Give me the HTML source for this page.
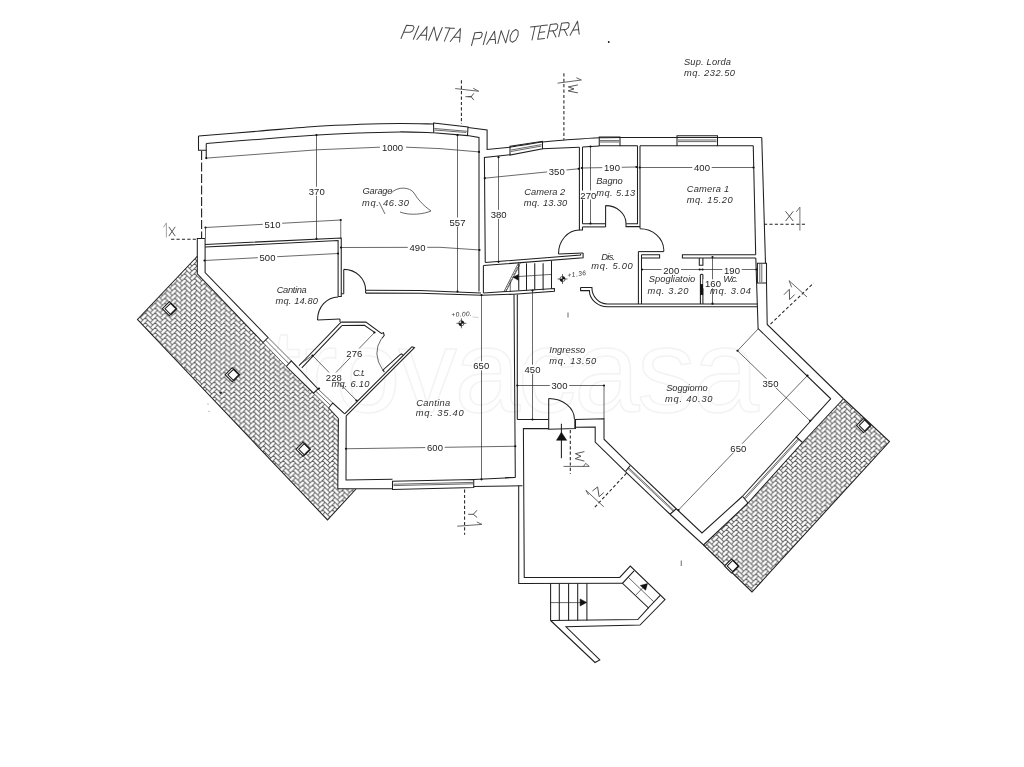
<!DOCTYPE html>
<html><head><meta charset="utf-8"><title>Pianta Piano Terra</title>
<style>
html,body{margin:0;padding:0;background:#fff;}
body{width:1024px;height:767px;overflow:hidden;font-family:"Liberation Sans",sans-serif;}
svg{display:block;will-change:transform}
.w{fill:none;stroke:#1f1f1f;stroke-width:1.05;stroke-linecap:butt;stroke-linejoin:miter}
.t{fill:none;stroke:#2a2a2a;stroke-width:0.7}
.h{fill:none;stroke:#5a5a5a;stroke-width:1.0}
.ds{fill:none;stroke:#222;stroke-width:1.05;stroke-dasharray:3.2 2.2}
.dl{fill:none;stroke:#222;stroke-width:1.1;stroke-dasharray:9 2.5}
.d{fill:#111;stroke:none}
.f{fill:#111;stroke:#111;stroke-width:0.5}
.n{font-family:"Liberation Sans",sans-serif;font-size:9.5px;fill:#222}
.i{font-family:"Liberation Sans",sans-serif;font-style:italic;font-size:9.3px;fill:#303030}
.s{font-family:"Liberation Sans",sans-serif;font-style:italic;font-size:6.6px;fill:#333}
.sec{font-family:"Liberation Sans",sans-serif;font-size:11px;fill:#333}
.wm{font-family:"Liberation Sans",sans-serif;font-size:118px;fill:none;stroke:#f3f3f3;stroke-width:1.5;letter-spacing:-3px}
.ttl{fill:none;stroke:#484848;stroke-width:1.0;stroke-linecap:round;stroke-linejoin:round}
</style></head><body>
<svg width="1024" height="767" viewBox="0 0 1024 767">
<defs>
<pattern id="hb" width="9.85" height="4.925" patternUnits="userSpaceOnUse" patternTransform="translate(0 0)">
<path class="h" d="M9.85 -4.92 L14.77 0.00 M7.39 -2.46 L9.85 0.00 M7.39 -2.46 L2.46 2.46 M9.85 0.00 L14.77 4.92 M9.85 0.00 L7.39 2.46 M7.39 2.46 L9.85 4.92 M7.39 2.46 L2.46 7.39 M9.85 4.92 L14.77 9.85 M9.85 4.92 L7.39 7.39 M0.00 -4.92 L4.92 0.00 M-2.46 -2.46 L0.00 0.00 M0.00 0.00 L4.92 4.92 M0.00 0.00 L-2.46 2.46 M-2.46 2.46 L0.00 4.92 M0.00 4.92 L4.92 9.85 M0.00 4.92 L-2.46 7.39"/>
</pattern>
</defs>
<rect width="1024" height="767" fill="#fff"/>
<text class="wm" x="268.00" y="412.00" textLength="488.0" lengthAdjust="spacing">trovacasa</text>
<path d="M197.30 256.25 L137.50 319.50 L327.50 520.00 L356.00 489.00 L337.80 488.75 L338.40 418.50 L328.60 408.00 L313.50 393.20 L286.30 366.50 L263.00 342.50 L197.30 273.75 Z" fill="url(#hb)" stroke="none"/>
<path class="w" d="M197.30 256.25 L137.50 319.50 L327.50 520.00 L356.00 489.00" />
<path d="M843.50 398.75 L889.50 441.50 L752.00 592.00 L703.50 545.00 L748.00 503.00 L802.50 442.50 Z" fill="url(#hb)" stroke="none"/>
<path class="w" d="M843.50 398.75 L889.50 441.50 L752.00 592.00 L703.50 545.00" />
<g transform="translate(169.30 308.80) rotate(45.0)">
<rect x="-4.95" y="-4.95" width="9.90" height="9.90" class="w" style="fill:#fff"/>
<rect x="-3.05" y="-4.95" width="8.00" height="8.00" class="w" style="fill:#fff"/>
<path class="w" style="stroke-width:1.5" d="M-3.05 -4.95 L4.95 -4.95 L4.95 3.05"/>
</g>
<g transform="translate(232.20 374.80) rotate(45.0)">
<rect x="-4.95" y="-4.95" width="9.90" height="9.90" class="w" style="fill:#fff"/>
<rect x="-3.05" y="-4.95" width="8.00" height="8.00" class="w" style="fill:#fff"/>
<path class="w" style="stroke-width:1.5" d="M-3.05 -4.95 L4.95 -4.95 L4.95 3.05"/>
</g>
<g transform="translate(303.00 449.25) rotate(45.0)">
<rect x="-4.95" y="-4.95" width="9.90" height="9.90" class="w" style="fill:#fff"/>
<rect x="-3.05" y="-4.95" width="8.00" height="8.00" class="w" style="fill:#fff"/>
<path class="w" style="stroke-width:1.5" d="M-3.05 -4.95 L4.95 -4.95 L4.95 3.05"/>
</g>
<g transform="translate(863.50 425.50) rotate(45.0)">
<rect x="-4.95" y="-4.95" width="9.90" height="9.90" class="w" style="fill:#fff"/>
<rect x="-3.05" y="-4.95" width="8.00" height="8.00" class="w" style="fill:#fff"/>
<path class="w" style="stroke-width:1.5" d="M-3.05 -4.95 L4.95 -4.95 L4.95 3.05"/>
</g>
<g transform="translate(731.50 566.00) rotate(45.0)">
<rect x="-4.95" y="-4.95" width="9.90" height="9.90" class="w" style="fill:#fff"/>
<rect x="-3.05" y="-4.95" width="8.00" height="8.00" class="w" style="fill:#fff"/>
<path class="w" style="stroke-width:1.5" d="M-3.05 -4.95 L4.95 -4.95 L4.95 3.05"/>
</g>
<path class="w" d="M198.50 136.00 C208.33 135.21 237.60 132.88 257.50 131.25 C277.40 129.62 300.82 127.41 317.90 126.25 C334.98 125.09 346.32 124.76 360.00 124.30 C373.68 123.84 387.75 123.55 400.00 123.50 C412.25 123.45 427.92 123.92 433.50 124.00" />
<path class="w" d="M198.50 136.00 L198.50 150.25 L206.25 150.25" />
<line class="w" x1="206.25" y1="143.50" x2="206.25" y2="158.10" />
<path class="w" d="M206.25 143.50 C214.79 142.82 238.89 140.82 257.50 139.40 C276.11 137.98 300.82 136.07 317.90 135.00 C334.98 133.93 346.32 133.52 360.00 133.00 C373.68 132.48 387.75 131.94 400.00 131.90 C412.25 131.86 427.92 132.61 433.50 132.75" />
<path class="w" d="M433.50 123.00 L468.00 127.00 L467.50 135.60 L433.75 132.75 Z" />
<line class="t" x1="434.40" y1="128.50" x2="466.90" y2="131.25" />
<line class="t" x1="434.40" y1="130.00" x2="466.25" y2="132.50" />
<path class="w" d="M468.00 127.50 L487.10 130.00 L487.10 149.40 L510.00 147.25" />
<path class="w" d="M467.50 135.60 L479.00 137.50 L479.00 291.50" />
<line class="dl" x1="201.60" y1="151.00" x2="201.60" y2="238.50" />
<path class="w" d="M205.10 238.50 L197.30 238.50 L197.30 273.75 L263.00 342.50 L268.00 337.50 L205.10 272.50 L205.10 238.50" />
<path class="w" d="M205.10 244.40 L341.25 238.00 L341.25 296.50 L338.10 296.50" />
<path class="w" d="M205.10 247.10 L338.10 240.60 L338.10 296.50" />
<line class="w" x1="343.75" y1="269.40" x2="343.75" y2="293.75" />
<path class="w" d="M343.75 269.4 A21.8 20.8 0 0 1 365.6 290.2" />
<line class="w" x1="365.60" y1="290.20" x2="365.60" y2="293.10" />
<line class="w" x1="341.25" y1="293.75" x2="343.75" y2="293.75" />
<path class="w" d="M365.60 290.25 L420.00 290.50 L481.00 293.00" />
<path class="w" d="M365.60 293.10 L420.00 293.30 L481.90 295.25" />
<path class="w" d="M338.1 296.9 A20.6 23.1 0 0 0 317.5 320" />
<line class="w" x1="317.50" y1="320.00" x2="340.00" y2="319.10" />
<line class="w" x1="340.00" y1="319.10" x2="340.00" y2="322.10" />
<path class="w" d="M341.20 322.10 L365.90 322.10 L381.40 333.40 L383.50 332.70 L384.20 335.50 L382.00 338.30" />
<path class="w" d="M341.90 325.60 L364.50 325.30 L374.60 332.40" />
<path class="w" d="M339.10 324.20 L299.00 365.75" />
<path class="w" d="M341.90 325.60 L301.80 367.90" />
<path class="w" d="M339.10 324.20 L341.20 322.10" />
<path class="t" d="M381.6 338.3 Q371.5 353.5 382.8 370.2" />
<path class="w" d="M412.10 346.70 L414.50 347.70 L346.20 415.90" />
<path class="w" d="M412.10 346.70 L344.70 413.80" />
<path class="w" d="M403.30 355.50 L401.60 353.80 L399.80 354.90 L382.80 370.20 L384.40 371.90" />
<path class="t" d="M263.00 342.50 L286.30 366.50" />
<path class="t" d="M265.50 340.00 L288.80 363.60" />
<path class="t" d="M268.00 337.50 L291.30 360.80" />
<path class="w" d="M286.30 366.50 L291.30 360.80 L318.00 389.00 L313.50 393.20 L286.30 366.50" />
<path class="t" d="M313.50 393.20 L328.60 408.00" />
<path class="t" d="M315.70 391.10 L330.70 405.50" />
<path class="t" d="M318.00 389.00 L332.80 403.00" />
<path class="w" d="M328.60 408.00 L332.80 403.00 L344.70 413.80" />
<path class="w" d="M328.60 408.00 L338.40 418.50" />
<path class="w" d="M346.20 415.70 L346.00 480.00 L392.50 479.20" />
<path class="w" d="M338.40 418.50 L337.80 488.75 L392.50 488.75" />
<path class="w" d="M392.50 481.25 L473.75 479.50 L473.75 487.50 L392.50 489.50 Z" />
<line class="t" x1="393.50" y1="484.20" x2="473.00" y2="482.40" />
<line class="t" x1="393.50" y1="485.60" x2="473.00" y2="483.80" />
<path class="w" d="M473.75 479.50 L515.00 477.50" />
<path class="w" d="M473.75 486.50 L522.50 485.75" />
<path class="w" d="M510.00 147.25 C515.42 146.38 533.33 143.21 542.50 142.00 C551.67 140.79 555.42 140.72 565.00 140.00 C574.58 139.28 587.50 138.12 600.00 137.70 C612.50 137.28 633.33 137.53 640.00 137.50" />
<line class="w" x1="640.00" y1="137.50" x2="761.75" y2="137.50" />
<path class="w" d="M510.00 146.25 L542.50 141.25 L542.50 148.75 L510.00 155.00 Z" />
<line class="t" x1="511.00" y1="150.00" x2="541.50" y2="144.60" />
<line class="t" x1="511.00" y1="151.50" x2="541.50" y2="146.00" />
<path class="w" d="M485.25 262.50 L484.40 157.50 L510.00 154.75" />
<path class="w" d="M542.50 148.75 L579.40 147.20" />
<path class="w" d="M579.40 147.20 L579.40 230.00 L582.50 230.00 L582.50 226.90" />
<line class="w" x1="582.50" y1="147.00" x2="582.50" y2="223.75" />
<path class="w" d="M485.25 262.50 L580.60 254.90 L580.60 254.00" />
<path class="w" d="M483.40 265.60 L583.10 257.70 L583.10 253.10" />
<path class="w" d="M582.50 147.00 L599.25 146.00" />
<path class="w" d="M620.00 145.75 L637.50 145.75" />
<path class="w" d="M599.25 137.00 L620.00 137.00 L620.00 145.75 L599.25 145.75 Z" />
<line class="t" x1="600.00" y1="140.60" x2="619.20" y2="140.60" />
<line class="t" x1="600.00" y1="142.00" x2="619.20" y2="142.00" />
<path class="w" d="M637.50 145.75 L637.50 223.75 L626.00 223.75 L626.00 226.60 L640.00 226.60" />
<line class="w" x1="640.00" y1="145.75" x2="640.00" y2="228.50" />
<path class="w" d="M582.50 223.75 L605.60 223.75" />
<path class="w" d="M582.50 226.90 L605.60 226.90" />
<path class="w" d="M605.6 205.6 A20.4 17.8 0 0 1 626 223.4" />
<line class="w" x1="605.60" y1="205.60" x2="605.60" y2="226.90" />
<path class="w" d="M558.5 253.9 A20.9 23.9 0 0 1 579.4 230" />
<line class="w" x1="558.50" y1="254.00" x2="583.10" y2="253.10" />
<path class="w" d="M640 228.7 A23.75 21.5 0 0 1 663.75 249.6" />
<line class="w" x1="663.75" y1="249.60" x2="663.75" y2="251.60" />
<line class="w" x1="638.40" y1="251.60" x2="663.75" y2="251.60" />
<path class="w" d="M677.00 135.75 L717.50 135.75 L717.50 145.75 L677.00 145.75 Z" />
<line class="t" x1="678.00" y1="140.00" x2="716.50" y2="140.00" />
<line class="t" x1="678.00" y1="141.60" x2="716.50" y2="141.60" />
<line class="w" x1="640.00" y1="145.75" x2="677.00" y2="145.75" />
<line class="w" x1="717.50" y1="145.75" x2="753.25" y2="145.75" />
<path class="w" d="M761.75 137.50 L765.50 263.20" />
<path class="w" d="M753.25 145.75 L755.70 254.70" />
<path class="w" d="M755.70 254.70 L682.40 254.70 L682.40 258.00 L755.80 258.00" />
<path class="w" d="M641.50 254.70 L659.60 254.70 L659.60 258.00 L641.50 258.00" />
<line class="w" x1="638.40" y1="251.60" x2="638.40" y2="304.00" />
<line class="w" x1="641.50" y1="254.70" x2="641.50" y2="304.00" />
<path class="w" d="M699.30 258.00 L699.30 265.30 L702.90 265.30 L702.90 258.00" />
<path class="w" d="M700.40 274.40 L700.40 304.00" />
<path class="w" d="M702.90 274.40 L702.90 304.00" />
<line class="w" x1="700.40" y1="274.40" x2="702.90" y2="274.40" />
<rect class="f" x="700.4" y="284.3" width="2.5" height="10.5"/>
<path class="w" d="M580.6 287.5 L591.9 287.5 A15.5 16.5 0 0 0 607.5 304 L757.6 304" />
<path class="w" d="M580.6 287.5 L580.6 290.6 L589.4 290.6 A18.5 16.2 0 0 0 607.5 306.8 L757.7 306.8" />
<path class="w" d="M755.80 258.00 L758.10 328.60 L830.75 398.75" />
<path class="w" d="M766.50 282.90 L767.20 324.50 L843.50 398.75" />
<path class="w" d="M757.40 263.20 L766.50 263.20 L766.50 282.90 L757.40 282.90 Z" />
<line class="t" x1="759.80" y1="264.00" x2="759.80" y2="282.00" />
<line class="t" x1="761.80" y1="264.00" x2="761.80" y2="282.00" />
<path class="w" d="M830.75 398.75 L796.25 437.00 L802.50 442.50" />
<path class="w" d="M843.50 398.75 L802.50 442.50" />
<path class="w" d="M796.25 437.00 L742.50 496.25" />
<path class="w" d="M802.50 442.50 L748.00 503.00" />
<path class="t" d="M798.10 438.70 L744.30 498.00" />
<path class="t" d="M799.00 439.50 L745.20 498.80" />
<path class="w" d="M742.50 496.25 L748.00 503.00" />
<path class="w" d="M742.50 496.25 L702.00 533.00 L676.25 508.75 L670.00 514.25" />
<path class="w" d="M748.00 503.00 L703.50 545.00 L670.00 514.25" />
<path class="w" d="M676.25 508.75 L630.40 465.20" />
<path class="w" d="M670.00 514.25 L625.40 471.60" />
<path class="t" d="M674.10 510.60 L628.50 467.60" />
<path class="t" d="M673.30 511.40 L627.80 468.50" />
<path class="w" d="M630.40 465.20 L625.40 471.60" />
<path class="w" d="M630.40 465.20 L604.00 439.20 L604.00 418.80 L575.50 419.50 L575.50 428.60 L548.70 429.30 L548.70 398.40" />
<line class="t" x1="574.50" y1="419.50" x2="574.50" y2="428.60" />
<path class="w" d="M625.40 471.60 L595.20 442.00 L595.20 427.00 L575.50 427.20" />
<path class="w" d="M548.70 428.60 L523.40 428.60 L524.25 577.40 L619.70 577.40 L630.30 566.10 L665.00 599.60 L640.00 625.00 L566.00 626.80 L599.80 659.90 L595.00 662.50 L550.60 620.50" />
<path class="w" d="M548.7 398.4 A25.8 21.1 0 0 1 574.5 419.5" />
<line class="w" x1="548.70" y1="419.50" x2="517.30" y2="419.50" />
<line class="w" x1="517.30" y1="419.50" x2="517.30" y2="294.50" />
<path class="w" d="M514.00 294.50 L515.30 477.20 L505.00 477.70" />
<path class="w" d="M518.70 485.60 L518.75 583.50 L622.50 583.30" />
<line class="w" x1="550.60" y1="583.50" x2="550.60" y2="620.50" />
<line class="w" x1="559.30" y1="583.50" x2="559.30" y2="620.50" />
<line class="w" x1="568.60" y1="583.50" x2="568.60" y2="620.50" />
<line class="w" x1="577.70" y1="583.50" x2="577.70" y2="620.50" />
<line class="w" x1="586.90" y1="583.50" x2="586.90" y2="620.50" />
<line class="t" x1="550.60" y1="602.60" x2="581.00" y2="602.60" />
<path class="f" d="M580.1 598.9 L586.7 602.4 L580.1 606 Z"/>
<path class="w" d="M550.60 620.50 L637.80 619.50 L648.40 607.80" />
<path class="w" d="M634.00 570.80 L622.50 583.30 L648.40 607.80 L660.20 595.40" />
<path class="t" d="M628.40 577.40 L653.75 601.75" />
<line class="t" x1="636.00" y1="594.90" x2="645.00" y2="585.50" />
<path class="f" d="M647.5 583.6 L640.3 585.5 L645.6 590.2 Z"/>
<line class="w" x1="483.40" y1="265.60" x2="483.40" y2="293.00" />
<line class="w" x1="518.75" y1="263.30" x2="518.75" y2="290.30" />
<line class="w" x1="526.50" y1="263.30" x2="526.50" y2="290.30" />
<line class="w" x1="534.75" y1="263.30" x2="534.75" y2="290.30" />
<line class="w" x1="543.10" y1="263.30" x2="543.10" y2="290.30" />
<line class="w" x1="551.50" y1="260.60" x2="551.50" y2="288.80" />
<line class="t" x1="518.75" y1="276.50" x2="551.50" y2="274.40" />
<path class="f" d="M513.1 277.25 L518.3 274.6 L518.3 280.2 Z"/>
<path class="t" d="M518.10 263.75 L503.75 291.90" />
<path class="t" d="M519.60 265.00 L505.80 291.90" />
<line class="t" x1="518.10" y1="265.55" x2="520.30" y2="263.35" />
<line class="t" x1="516.51" y1="268.68" x2="518.71" y2="266.48" />
<line class="t" x1="514.91" y1="271.81" x2="517.11" y2="269.61" />
<line class="t" x1="513.32" y1="274.93" x2="515.52" y2="272.73" />
<line class="t" x1="511.72" y1="278.06" x2="513.92" y2="275.86" />
<line class="t" x1="510.13" y1="281.19" x2="512.33" y2="278.99" />
<line class="t" x1="508.53" y1="284.32" x2="510.73" y2="282.12" />
<line class="t" x1="506.94" y1="287.44" x2="509.14" y2="285.24" />
<line class="t" x1="505.34" y1="290.57" x2="507.54" y2="288.37" />
<line class="t" x1="510.25" y1="281.00" x2="510.25" y2="291.50" />
<path class="w" d="M483.40 293.00 L554.40 288.50 L554.40 291.25 L513.75 294.20 L481.90 295.25" />
<line class="w" x1="561.40" y1="423.70" x2="561.40" y2="458.20" />
<path class="f" d="M556.5 440.3 L561.4 432.2 L566.7 440.3 Z"/>
<path class="t" d="M206.25 158.10 L317.90 149.75 L380.00 147.20" />
<path class="t" d="M406.00 147.20 L440.00 148.60 L479.00 151.90" />
<circle class="d" cx="206.25" cy="158.10" r="1.10"/>
<circle class="d" cx="479.00" cy="151.90" r="1.10"/>
<g><rect x="380.15" y="142.80" width="24.70" height="9" fill="#fff"/>
<text class="n" x="392.50" y="150.90" text-anchor="middle">1000</text></g>
<path class="t" d="M316.50 134.80 L316.50 238.80" />
<circle class="d" cx="316.50" cy="135.00" r="1.10"/>
<circle class="d" cx="316.50" cy="238.80" r="1.10"/>
<g><rect x="307.05" y="186.80" width="19.40" height="9" fill="#fff"/>
<text class="n" x="316.75" y="194.90" text-anchor="middle">370</text></g>
<path class="t" d="M205.50 227.50 L340.75 220.00" />
<circle class="d" cx="205.50" cy="227.50" r="1.10"/>
<circle class="d" cx="340.75" cy="220.00" r="1.10"/>
<line class="t" x1="340.75" y1="220.00" x2="340.75" y2="238.50" />
<line class="t" x1="205.50" y1="227.50" x2="205.50" y2="238.50" />
<g><rect x="262.80" y="219.50" width="19.40" height="9" fill="#fff"/>
<text class="n" x="272.50" y="227.60" text-anchor="middle">510</text></g>
<path class="t" d="M340.75 247.50 L440.00 247.30 L480.00 250.00" />
<circle class="d" cx="341.00" cy="247.50" r="1.10"/>
<circle class="d" cx="479.50" cy="250.00" r="1.10"/>
<g><rect x="407.80" y="242.80" width="19.40" height="9" fill="#fff"/>
<text class="n" x="417.50" y="250.90" text-anchor="middle">490</text></g>
<path class="t" d="M204.50 260.50 L338.00 253.50" />
<circle class="d" cx="204.50" cy="260.50" r="1.10"/>
<circle class="d" cx="338.00" cy="253.50" r="1.10"/>
<g><rect x="257.80" y="252.80" width="19.40" height="9" fill="#fff"/>
<text class="n" x="267.50" y="260.90" text-anchor="middle">500</text></g>
<path class="t" d="M457.50 135.00 L457.50 291.50" />
<circle class="d" cx="457.50" cy="135.20" r="1.10"/>
<circle class="d" cx="457.50" cy="291.50" r="1.10"/>
<g><rect x="447.80" y="217.50" width="19.40" height="9" fill="#fff"/>
<text class="n" x="457.50" y="225.60" text-anchor="middle">557</text></g>
<path class="t" d="M498.50 157.00 L498.50 262.00" />
<circle class="d" cx="498.50" cy="157.20" r="1.10"/>
<circle class="d" cx="498.50" cy="261.80" r="1.10"/>
<g><rect x="489.00" y="209.80" width="19.40" height="9" fill="#fff"/>
<text class="n" x="498.70" y="217.90" text-anchor="middle">380</text></g>
<path class="t" d="M484.60 178.20 L578.75 168.75" />
<circle class="d" cx="484.80" cy="178.20" r="1.10"/>
<circle class="d" cx="578.75" cy="168.75" r="1.10"/>
<g><rect x="547.05" y="166.70" width="19.40" height="9" fill="#fff"/>
<text class="n" x="556.75" y="174.80" text-anchor="middle">350</text></g>
<path class="t" d="M581.75 168.00 L636.50 167.00" />
<circle class="d" cx="581.75" cy="168.00" r="1.10"/>
<circle class="d" cx="636.50" cy="167.00" r="1.10"/>
<g><rect x="602.30" y="163.00" width="19.40" height="9" fill="#fff"/>
<text class="n" x="612.00" y="171.10" text-anchor="middle">190</text></g>
<path class="t" d="M590.50 146.30 L590.50 223.75" />
<circle class="d" cx="590.50" cy="146.50" r="1.10"/>
<circle class="d" cx="590.50" cy="223.50" r="1.10"/>
<g><rect x="581.30" y="190.50" width="14.00" height="9" fill="#fff"/>
<text class="n" x="588.30" y="198.60" text-anchor="middle">270</text></g>
<path class="t" d="M639.50 167.50 L753.50 167.50" />
<circle class="d" cx="639.70" cy="167.50" r="1.10"/>
<circle class="d" cx="753.50" cy="167.50" r="1.10"/>
<g><rect x="692.30" y="163.00" width="19.40" height="9" fill="#fff"/>
<text class="n" x="702.00" y="171.10" text-anchor="middle">400</text></g>
<path class="t" d="M642.00 269.50 L756.50 269.50" />
<circle class="d" cx="642.00" cy="269.50" r="1.10"/>
<circle class="d" cx="699.70" cy="269.50" r="1.10"/>
<circle class="d" cx="702.50" cy="269.50" r="1.10"/>
<circle class="d" cx="756.50" cy="269.50" r="1.10"/>
<g><rect x="661.55" y="265.50" width="19.40" height="9" fill="#fff"/>
<text class="n" x="671.25" y="273.60" text-anchor="middle">200</text></g>
<g><rect x="722.30" y="265.50" width="19.40" height="9" fill="#fff"/>
<text class="n" x="732.00" y="273.60" text-anchor="middle">190</text></g>
<path class="t" d="M712.50 256.50 L712.50 304.00" />
<circle class="d" cx="712.50" cy="257.00" r="1.10"/>
<circle class="d" cx="712.50" cy="303.70" r="1.10"/>
<g><rect x="703.30" y="279.25" width="19.40" height="9" fill="#fff"/>
<text class="n" x="713.00" y="287.35" text-anchor="middle">160</text></g>
<path class="t" d="M481.50 295.00 L481.50 479.50" />
<circle class="d" cx="481.50" cy="295.00" r="1.10"/>
<circle class="d" cx="481.50" cy="479.30" r="1.10"/>
<g><rect x="471.55" y="361.25" width="19.40" height="9" fill="#fff"/>
<text class="n" x="481.25" y="369.35" text-anchor="middle">650</text></g>
<path class="t" d="M532.50 290.50 L532.50 419.50" />
<circle class="d" cx="532.50" cy="290.50" r="1.10"/>
<circle class="d" cx="532.50" cy="419.50" r="1.10"/>
<g><rect x="522.80" y="364.75" width="19.40" height="9" fill="#fff"/>
<text class="n" x="532.50" y="372.85" text-anchor="middle">450</text></g>
<path class="t" d="M517.30 385.50 L604.00 385.50" />
<circle class="d" cx="517.30" cy="385.50" r="1.10"/>
<circle class="d" cx="604.00" cy="385.50" r="1.10"/>
<line class="t" x1="604.00" y1="385.50" x2="604.00" y2="419.00" />
<g><rect x="549.80" y="381.20" width="19.40" height="9" fill="#fff"/>
<text class="n" x="559.50" y="389.30" text-anchor="middle">300</text></g>
<path class="t" d="M346.00 448.75 L515.30 446.25" />
<circle class="d" cx="346.00" cy="448.75" r="1.10"/>
<circle class="d" cx="515.30" cy="446.25" r="1.10"/>
<g><rect x="425.30" y="443.10" width="19.40" height="9" fill="#fff"/>
<text class="n" x="435.00" y="451.20" text-anchor="middle">600</text></g>
<path class="t" d="M737.50 350.75 L810.00 420.75" />
<circle class="d" cx="737.50" cy="350.75" r="1.10"/>
<circle class="d" cx="810.00" cy="420.75" r="1.10"/>
<path class="t" d="M737.50 350.75 L758.75 328.25" />
<path class="t" d="M810.00 420.75 L830.75 398.75" />
<g><rect x="760.80" y="378.70" width="19.40" height="9" fill="#fff"/>
<text class="n" x="770.50" y="386.80" text-anchor="middle">350</text></g>
<path class="t" d="M807.50 375.50 L678.50 510.00" />
<circle class="d" cx="807.50" cy="375.50" r="1.10"/>
<circle class="d" cx="678.50" cy="510.00" r="1.10"/>
<g><rect x="728.60" y="443.70" width="19.40" height="9" fill="#fff"/>
<text class="n" x="738.30" y="451.80" text-anchor="middle">650</text></g>
<path class="t" d="M374.50 332.50 L334.50 374.00" />
<circle class="d" cx="374.50" cy="332.50" r="1.10"/>
<g><rect x="344.60" y="348.50" width="19.40" height="9" fill="#fff"/>
<text class="n" x="354.30" y="356.60" text-anchor="middle">276</text></g>
<path class="t" d="M312.50 355.50 L356.50 400.50" />
<circle class="d" cx="312.50" cy="355.50" r="1.10"/>
<circle class="d" cx="356.50" cy="400.50" r="1.10"/>
<circle class="d" cx="319.00" cy="388.50" r="1.10"/>
<g><rect x="324.10" y="372.50" width="19.40" height="9" fill="#fff"/>
<text class="n" x="333.80" y="380.60" text-anchor="middle">228</text></g>
<path class="t" d="M299.50 364.50 L312.50 355.50" />
<text class="i" x="362.50" y="194.00" textLength="30.0" lengthAdjust="spacing">Garage</text>
<text class="i" x="362.00" y="206.00" textLength="47.0" lengthAdjust="spacing">mq.&#160;46.30</text>
<path class="t" d="M391 193 C398 186 410 187 414 193 C418 200 424 206 431 211 C424 214 410 216 400 212" />
<path class="t" d="M379 202 L385 214" />
<text class="i" x="276.75" y="293.00" textLength="30.0" lengthAdjust="spacing">Cantina</text>
<text class="i" x="275.50" y="304.30" textLength="42.5" lengthAdjust="spacing">mq.&#160;14.80</text>
<text class="i" x="524.25" y="195.30" textLength="41.0" lengthAdjust="spacing">Camera&#160;2</text>
<text class="i" x="523.75" y="206.30" textLength="43.5" lengthAdjust="spacing">mq.&#160;13.30</text>
<text class="i" x="596.25" y="183.70" textLength="26.5" lengthAdjust="spacing">Bagno</text>
<text class="i" x="596.25" y="195.50" textLength="39.0" lengthAdjust="spacing">mq.&#160;5.13</text>
<text class="i" x="686.75" y="191.70" textLength="42.5" lengthAdjust="spacing">Camera&#160;1</text>
<text class="i" x="686.75" y="203.00" textLength="46.0" lengthAdjust="spacing">mq.&#160;15.20</text>
<text class="i" x="601.25" y="260.30" textLength="14.0" lengthAdjust="spacing">Dis.</text>
<text class="i" x="591.25" y="268.50" textLength="41.5" lengthAdjust="spacing">mq.&#160;5.00</text>
<text class="i" x="648.75" y="282.20" textLength="46.5" lengthAdjust="spacing">Spogliatoio</text>
<text class="i" x="647.50" y="293.50" textLength="41.0" lengthAdjust="spacing">mq.&#160;3.20</text>
<text class="i" x="723.25" y="282.20" textLength="14.5" lengthAdjust="spacing">W.c.</text>
<text class="i" x="710.00" y="293.50" textLength="41.0" lengthAdjust="spacing">mq.&#160;3.04</text>
<text class="i" x="549.25" y="353.00" textLength="36.0" lengthAdjust="spacing">Ingresso</text>
<text class="i" x="549.25" y="364.30" textLength="47.0" lengthAdjust="spacing">mq.&#160;13.50</text>
<text class="i" x="666.25" y="391.00" textLength="41.5" lengthAdjust="spacing">Soggiorno</text>
<text class="i" x="665.00" y="402.30" textLength="47.5" lengthAdjust="spacing">mq.&#160;40.30</text>
<text class="i" x="416.25" y="405.50" textLength="34.0" lengthAdjust="spacing">Cantina</text>
<text class="i" x="415.75" y="416.30" textLength="48.0" lengthAdjust="spacing">mq.&#160;35.40</text>
<text class="i" x="352.90" y="375.80" textLength="12.5" lengthAdjust="spacing">C.t.</text>
<text class="i" x="331.40" y="387.30" textLength="38.0" lengthAdjust="spacing">mq.&#160;6.10</text>
<text class="i" x="684.00" y="64.50" textLength="47.0" lengthAdjust="spacing">Sup.&#160;Lorda</text>
<text class="i" x="684.00" y="75.50" textLength="51.0" lengthAdjust="spacing">mq.&#160;232.50</text>
<circle class="t" cx="461.40" cy="323.30" r="2.60"/>
<line class="t" x1="456.40" y1="323.30" x2="466.40" y2="323.30" />
<line class="t" x1="461.40" y1="318.30" x2="461.40" y2="328.30" />
<path class="d" d="M461.40 323.30 L458.80 323.30 A2.60 2.60 0 0 0 461.40 325.90 Z"/>
<path class="d" d="M461.40 323.30 L464.00 323.30 A2.60 2.60 0 0 0 461.40 320.70 Z"/>
<text class="s" x="451.50" y="317.00" textLength="20.3" lengthAdjust="spacing" transform="rotate(-3.0 451.50 317.00)">+0.00.</text>
<circle class="t" cx="562.50" cy="279.00" r="2.60"/>
<line class="t" x1="557.50" y1="279.00" x2="567.50" y2="279.00" />
<line class="t" x1="562.50" y1="274.00" x2="562.50" y2="284.00" />
<path class="d" d="M562.50 279.00 L559.90 279.00 A2.60 2.60 0 0 0 562.50 281.60 Z"/>
<path class="d" d="M562.50 279.00 L565.10 279.00 A2.60 2.60 0 0 0 562.50 276.40 Z"/>
<text class="s" x="567.80" y="277.60" textLength="18.5" lengthAdjust="spacing" transform="rotate(-8.0 567.80 277.60)">+1.36</text>
<line class="ds" x1="461.40" y1="80.30" x2="461.40" y2="124.00" />
<path d="M455.60 88.60 L478.75 91.25 L473.50 88.40" fill="none" stroke="#555" stroke-width="0.90" stroke-linecap="round" stroke-linejoin="round"/>
<path d="M468.50 96.70 L471.20 96.70" fill="none" stroke="#444" stroke-width="0.90" stroke-linecap="round" stroke-linejoin="round"/>
<path d="M473.60 93.60 L471.20 96.70 L473.60 99.80" fill="none" stroke="#444" stroke-width="0.90" stroke-linecap="round" stroke-linejoin="round"/>
<path d="M465.80 96.70 L471.20 96.70" fill="none" stroke="#444" stroke-width="0.90" stroke-linecap="round" stroke-linejoin="round"/>
<line class="ds" x1="563.90" y1="73.30" x2="563.90" y2="139.80" />
<path d="M558.00 83.10 L581.40 80.00 L576.70 77.90" fill="none" stroke="#555" stroke-width="0.90" stroke-linecap="round" stroke-linejoin="round"/>
<path d="M577.50 85.00 L568.30 86.90 L574.00 88.90 L568.10 90.90 L577.50 92.80" fill="none" stroke="#444" stroke-width="0.90" stroke-linecap="round" stroke-linejoin="round"/>
<line class="ds" x1="171.10" y1="239.30" x2="197.30" y2="239.30" />
<path d="M163.70 227.00 L166.40 222.90 L166.40 237.00" fill="none" stroke="#999" stroke-width="0.90" stroke-linecap="round" stroke-linejoin="round"/>
<path d="M169.10 227.20 L175.00 235.80" fill="none" stroke="#444" stroke-width="0.90" stroke-linecap="round" stroke-linejoin="round"/>
<path d="M175.00 227.20 L169.10 235.80" fill="none" stroke="#444" stroke-width="0.90" stroke-linecap="round" stroke-linejoin="round"/>
<line class="ds" x1="764.00" y1="224.30" x2="807.00" y2="224.30" />
<path d="M796.50 211.60 L799.90 207.10 L799.90 230.20" fill="none" stroke="#666" stroke-width="0.90" stroke-linecap="round" stroke-linejoin="round"/>
<path d="M785.80 211.60 L793.00 220.80" fill="none" stroke="#444" stroke-width="0.90" stroke-linecap="round" stroke-linejoin="round"/>
<path d="M793.00 211.60 L785.80 220.80" fill="none" stroke="#444" stroke-width="0.90" stroke-linecap="round" stroke-linejoin="round"/>
<line class="ds" x1="770.50" y1="324.10" x2="813.60" y2="283.00" />
<path d="M791.50 286.90 L789.10 280.70 L806.70 296.70" fill="none" stroke="#555" stroke-width="0.90" stroke-linecap="round" stroke-linejoin="round"/>
<path d="M784.20 294.50 L789.30 289.30 L789.60 299.60 L794.40 294.80" fill="none" stroke="#444" stroke-width="0.90" stroke-linecap="round" stroke-linejoin="round"/>
<line class="ds" x1="626.50" y1="473.20" x2="593.20" y2="508.90" />
<path d="M588.30 494.50 L585.90 490.30 L603.50 506.50" fill="none" stroke="#555" stroke-width="0.90" stroke-linecap="round" stroke-linejoin="round"/>
<path d="M592.70 490.80 L597.60 486.90 L599.10 496.70 L603.50 492.80" fill="none" stroke="#444" stroke-width="0.90" stroke-linecap="round" stroke-linejoin="round"/>
<line class="ds" x1="570.30" y1="430.00" x2="570.30" y2="474.00" />
<path d="M563.90 466.40 L589.30 466.40 L585.60 463.30 L583.50 466.40" fill="none" stroke="#555" stroke-width="0.90" stroke-linecap="round" stroke-linejoin="round"/>
<path d="M584.00 451.70 L575.40 453.70 L581.00 456.20 L575.20 458.70 L584.00 461.00" fill="none" stroke="#444" stroke-width="0.90" stroke-linecap="round" stroke-linejoin="round"/>
<line class="ds" x1="464.60" y1="489.50" x2="464.60" y2="534.80" />
<path d="M457.60 526.20 L481.90 524.40 L477.20 522.10" fill="none" stroke="#555" stroke-width="0.90" stroke-linecap="round" stroke-linejoin="round"/>
<path d="M468.60 514.30 L473.30 514.30" fill="none" stroke="#444" stroke-width="0.90" stroke-linecap="round" stroke-linejoin="round"/>
<path d="M476.80 510.50 L473.30 514.30 L476.80 517.20" fill="none" stroke="#444" stroke-width="0.90" stroke-linecap="round" stroke-linejoin="round"/>
<circle cx="220.7" cy="392.6" r="1.2" fill="#222"/>
<circle cx="208" cy="404" r="0.8" fill="#bbb"/>
<circle cx="209" cy="411.5" r="0.8" fill="#bbb"/>
<line class="t" x1="472.50" y1="316.80" x2="478.50" y2="317.60" style="stroke:#bbb"/>
<line class="t" x1="568.00" y1="312.50" x2="568.00" y2="317.50" />
<line class="t" x1="681.25" y1="560.50" x2="681.25" y2="566.00" />
<circle class="d" cx="608.75" cy="42.00" r="0.90"/>
<path class="ttl" transform="translate(401.00 38.50) rotate(3.5)" d="M0.00 0.00 L4.72 -13.50 L11.18 -13.50 L12.38 -11.88 L11.15 -8.37 L8.82 -6.75 L2.36 -6.75 M17.06 -13.50 L12.33 0.00 M15.86 0.00 L25.28 -13.50 L25.25 0.00 M19.27 -4.72 L25.50 -4.72 M27.60 0.00 L32.33 -13.50 L35.82 0.00 L40.55 -13.50 M43.48 -13.50 L52.88 -13.50 M48.18 -13.50 L43.46 0.00 M49.33 0.00 L58.75 -13.50 L58.73 0.00 M52.74 -4.72 L58.97 -4.72"/>
<path class="ttl" transform="translate(471.50 45.50) rotate(-4.5)" d="M0.00 0.00 L4.38 -12.50 L10.56 -12.50 L11.72 -11.00 L10.59 -7.75 L8.38 -6.25 L2.19 -6.25 M16.19 -12.50 L11.81 0.00 M15.19 0.00 L24.06 -12.50 L24.19 0.00 M18.41 -4.38 L24.37 -4.38 M26.44 0.00 L30.81 -12.50 L34.31 0.00 L38.69 -12.50 M45.44 -12.50 L41.97 -10.62 L39.31 -6.25 L38.91 -1.88 L41.06 0.00 L44.53 -1.88 L47.19 -6.25 L47.59 -10.62 L45.44 -12.50"/>
<path class="ttl" transform="translate(527.50 40.50) rotate(-7.0)" d="M4.55 -13.00 L13.70 -13.00 M9.13 -13.00 L4.58 0.00 M21.71 -13.00 L14.85 -13.00 L10.30 0.00 L17.16 0.00 M12.57 -6.50 L18.29 -6.50 M20.02 0.00 L24.57 -13.00 L30.86 -13.00 L32.03 -11.44 L30.85 -8.06 L28.59 -6.50 L22.29 -6.50 M26.30 -6.50 L28.60 0.00 M31.46 0.00 L36.01 -13.00 L42.30 -13.00 L43.47 -11.44 L42.29 -8.06 L40.03 -6.50 L33.73 -6.50 M37.74 -6.50 L40.04 0.00 M42.90 0.00 L52.03 -13.00 L52.05 0.00 M46.21 -4.55 L52.27 -4.55"/>
</svg>
</body></html>
